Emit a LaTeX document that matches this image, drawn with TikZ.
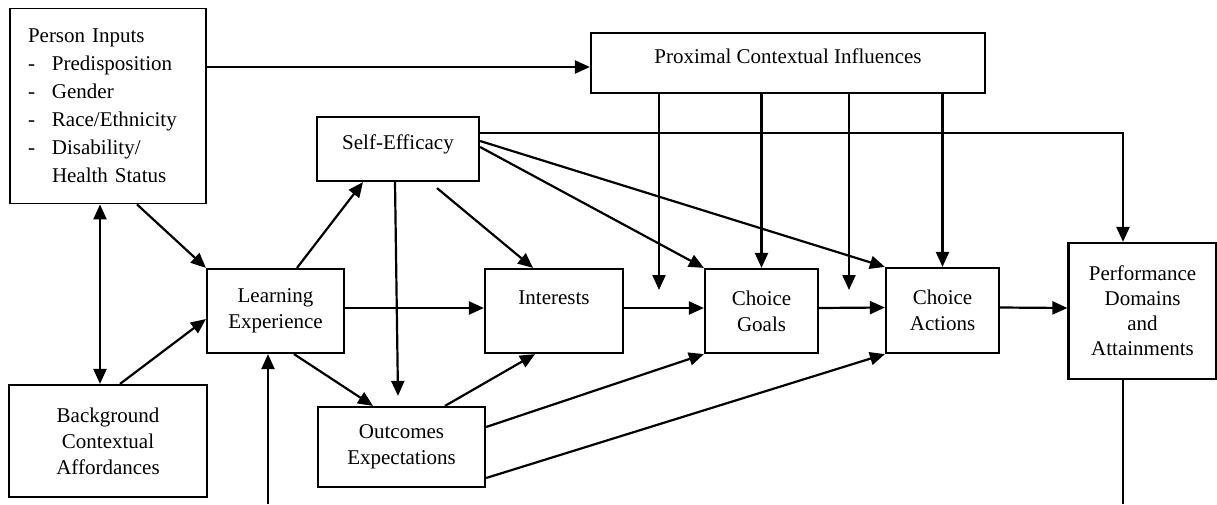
\documentclass[tikz,border=0pt]{standalone}
\usepackage{fontspec}
\setmainfont{Liberation Serif}
\usetikzlibrary{arrows.meta,positioning,calc}
\tikzset{
  arr/.style={-{Triangle[length=15pt,width=13pt]}, line width=2.2pt},
  arrboth/.style={{Triangle[length=15pt,width=13pt]}-{Triangle[length=15pt,width=13pt]}, line width=2.2pt},
  wire/.style={line width=2.2pt},
  box/.style={draw, line width=2.2pt, align=center, inner sep=2pt, font=\fontsize{21}{26}\selectfont}
}

\begin{document}
\begin{tikzpicture}[x=1pt,y=-1pt]
  \useasboundingbox (0,0) rectangle (1217,504);
  \node[box, line width=1.8pt, minimum width=196pt, minimum height=195pt, text width=160pt, inner xsep=18pt, align=left, font=\fontsize{21}{28}\selectfont] (person) at (108,106)
    {Person Inputs\\
     \makebox[24pt][l]{-}Predisposition\\
     \makebox[24pt][l]{-}Gender\\
     \makebox[24pt][l]{-}Race/Ethnicity\\
     \makebox[24pt][l]{-}Disability/\\
     \hspace*{24pt}Health Status};
  \node[box, minimum width=198pt, minimum height=112pt] (backgr) at (108,441) {Background\\Contextual\\Affordances};
  \node[box, minimum width=137pt, minimum height=84pt] (learn) at (275.5,311) {Learning\\Experience};
  \node[box, minimum width=162pt, minimum height=64pt] (selfeff) at (398,149) {Self-Efficacy\\[-12pt]\mbox{}};
  \node[box, minimum width=167pt, minimum height=80pt] (outcome) at (401.5,447) {Outcomes\\Expectations};
  \node[box, minimum width=138pt, minimum height=84pt] (interest) at (554,311) {Interests\\\mbox{}};
  \node[box, minimum width=113pt, minimum height=84pt] (goals) at (761.5,311) {Choice\\Goals};
  \node[box, minimum width=113pt, minimum height=85pt] (actions) at (942.5,310.5) {Choice\\Actions};
  \node[box, minimum width=148pt, minimum height=136pt, font=\fontsize{21}{25}\selectfont] (perf) at (1142.5,311) {Performance\\Domains\\and\\Attainments};
  \node[box, minimum width=394pt, minimum height=60pt] (proximal) at (788,63) {Proximal Contextual Influences\\[-12pt]\mbox{}};

  % free ends
  \coordinate (gapA) at (659,290);
  \coordinate (gapB) at (849,290);
  \coordinate (feedR) at (1123,504);
  \coordinate (feedL) at (268,504);

  \draw[arr] (person.east |- 0,67) -- (proximal.west |- 0,67);
  \draw[arrboth] ([xshift=-8pt]person.south) -- ([xshift=-8pt]backgr.north);
  \draw[arr] ([xshift=29pt]person.south) -- (learn.north west);
  \draw[arr] ([xshift=12pt]backgr.north) -- ([yshift=-8pt]learn.west);

  \draw[arr] ([xshift=21.5pt]learn.north) -- ([xshift=-35pt]selfeff.south);
  \draw[arr] ([yshift=3pt]learn.east) -- ([yshift=3pt]interest.west);
  \draw[arr] ([xshift=18.5pt]learn.south) -- ([xshift=-28.5pt]outcome.north);

  \draw[arr] ([xshift=-3pt]selfeff.south) -- ([xshift=-3.5pt,yshift=10pt]outcome.north);
  \draw[arr] ([xshift=39pt,yshift=-6pt]selfeff.south) -- ([xshift=-21pt]interest.north);
  \draw[arr] ([yshift=2pt]selfeff.east) -- (goals.north west);
  \draw[arr] ([yshift=8pt]selfeff.east) -- (actions.north west);
  \draw[arr] ([yshift=16pt]selfeff.east) -| ([xshift=-19.5pt]perf.north);

  \draw[arr] (proximal.south -| gapA) -- (gapA);
  \draw[arr] (proximal.south -| goals.north) -- (goals.north);
  \draw[arr] (proximal.south -| gapB) -- (gapB);
  \draw[arr] (proximal.south -| actions.north) -- (actions.north);

  \draw[arr] ([yshift=3pt]interest.east) -- ([yshift=3pt]goals.west);
  \draw[arr] ([yshift=3pt]goals.east) -- ([yshift=3pt]actions.west);
  \draw[arr] ([yshift=3pt]actions.east) -- ([yshift=3pt]perf.west);

  \draw[arr] ([xshift=43.5pt]outcome.north) -- ([xshift=-19pt]interest.south);
  \draw[arr] ([yshift=20pt]outcome.east) -- (goals.south west);
  \draw[arr] ([yshift=-31pt]outcome.east) -- (actions.south west);

  \draw[wire] ([xshift=-19.5pt]perf.south) -- (feedR);
  \draw[arr] (feedL) -- ([xshift=-7.5pt]learn.south);
\end{tikzpicture}
\end{document}
